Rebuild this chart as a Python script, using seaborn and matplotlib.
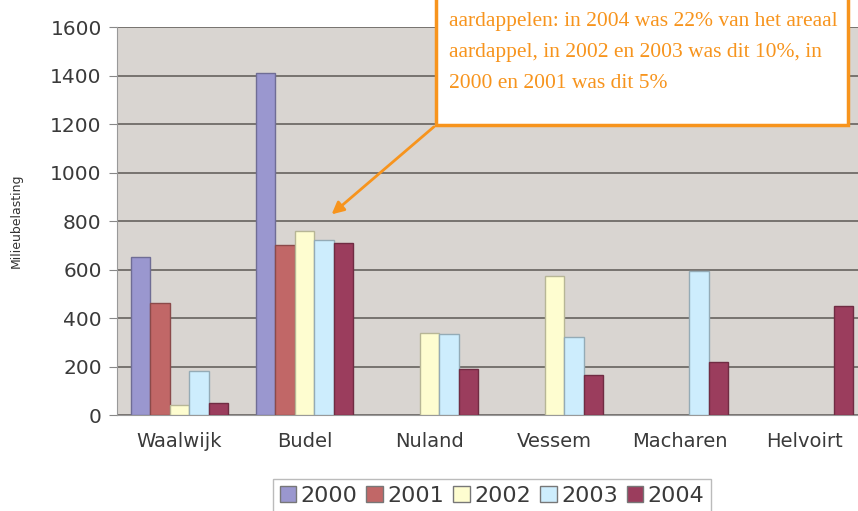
import numpy as np
import pandas as pd
import matplotlib
matplotlib.use('Agg')
import matplotlib.pyplot as plt
import matplotlib.colors as mcolors
from matplotlib.patches import Rectangle
import seaborn as sns

sites = ['Waalwijk', 'Budel', 'Nuland', 'Vessem', 'Macharen', 'Helvoirt']
years = ['2000', '2001', '2002', '2003', '2004']
v2000 = [650, 1410, np.nan, np.nan, np.nan, np.nan]
v2001 = [460, 700, np.nan, np.nan, np.nan, np.nan]
v2002 = [40, 760, 340, 575, np.nan, np.nan]
v2003 = [180, 720, 335, 320, 595, np.nan]
v2004 = [50, 710, 190, 165, 220, 450]
colors = ['#9a97cf', '#c16767', '#fefdd0', '#cdedfd', '#9b3d5d']

note_lines = ['aardappelen: in 2004 was 22% van het areaal',
              'aardappel, in 2002 en 2003 was dit 10%, in',
              '2000 en 2001 was dit 5%']

df = pd.DataFrame({'site': np.repeat(sites, len(years)),
                   'year': years * len(sites),
                   'value': np.array([v2000, v2001, v2002, v2003, v2004]).T.ravel()})

sns.set_style('white')
plt.rcParams['font.family'] = ['DejaVu Sans']

fig = plt.figure(figsize=(8.58, 5.11), dpi=100)
ax = fig.add_axes([117 / 858, 96 / 511, 750 / 858, 388 / 511])
ax.set_facecolor('#d9d5d1')

sns.barplot(data=df, x='site', y='value', hue='year', order=sites, hue_order=years,
            palette=colors, saturation=1, width=0.78, errorbar=None, linewidth=1.0,
            ax=ax, zorder=3)

# darker edge for each bar
for cont, c in zip(ax.containers, colors):
    edge = tuple(np.array(mcolors.to_rgb(c)) * 0.72)
    for bar in cont:
        bar.set_edgecolor(edge)

ax.set_ylim(0, 1600)
ax.set_xlim(-0.5, len(sites) - 0.5)
ax.set_yticks(range(0, 1601, 200))
ax.yaxis.grid(True, color='#77736f', linewidth=1.4, zorder=1)
ax.set_axisbelow(True)
ax.set_xticks(np.arange(len(sites) + 1) - 0.5, minor=True)
ax.tick_params(axis='x', which='major', length=0, pad=12, labelsize=14, labelcolor='#3a3a3a')
ax.tick_params(axis='x', which='minor', length=5, color='#999999', direction='out')
ax.tick_params(axis='y', length=6, color='#888888', labelsize=14.5, labelcolor='#3a3a3a', pad=5, left=True)
for s in ['top', 'right']:
    ax.spines[s].set_visible(False)
ax.spines['left'].set_color('#999999')
ax.spines['bottom'].set_color('#999999')
ax.set_xlabel('')
ax.set_ylabel('Milieubelasting', fontsize=9, color='#333333', labelpad=20)

leg = ax.legend(loc='upper center', bbox_to_anchor=(0.5, -0.165), ncol=5, frameon=True,
                fontsize=16, handlelength=0.75, handleheight=0.75, handletextpad=0.2,
                columnspacing=0.4, borderpad=0.3, fancybox=False, borderaxespad=0)
leg.get_frame().set_edgecolor('#aaaaaa')
leg.get_frame().set_linewidth(1.0)
for t in leg.get_texts():
    t.set_color('#3a3a3a')
for h in leg.legend_handles:
    h.set_edgecolor('#777777')

orange = '#f7941d'
box = Rectangle((436 / 858, 386 / 511), 412 / 858, 0.3, transform=fig.transFigure,
                facecolor='white', edgecolor=orange, linewidth=2.5, zorder=10)
fig.add_artist(box)
for i, line in enumerate(note_lines):
    fig.text(449 / 858, (511 - 21 - i * 31.5) / 511, line, color=orange, fontsize=15.5,
             family='Liberation Serif', va='center', ha='left', zorder=11)

ax.annotate('', xy=(1.2, 820), xycoords='data',
            xytext=(436 / 858, 386 / 511), textcoords='figure fraction',
            arrowprops=dict(arrowstyle='-|>', color=orange, lw=2, mutation_scale=18),
            annotation_clip=False, zorder=12)

fig.savefig('out.png', dpi=100)
